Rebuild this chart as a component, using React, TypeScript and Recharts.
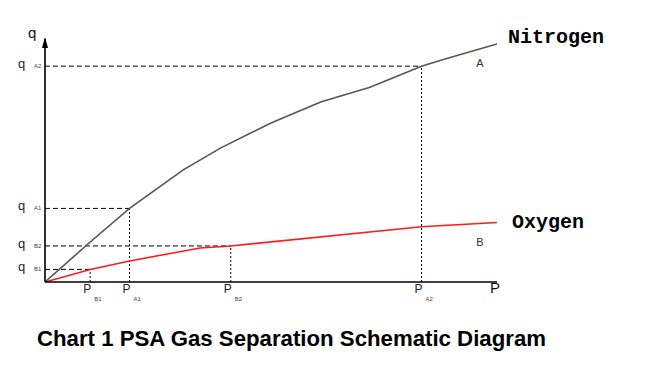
import React from 'react';
import { LineChart, Line, XAxis, YAxis, ReferenceLine, ReferenceDot } from 'recharts';

// Nitrogen isotherm (curve A): pressure P vs adsorbed amount q
const nitrogenP = [0, 1.0, 1.87, 3.05, 3.89, 5.0, 6.1, 7.19, 8.33, 8.85, 10.0];
const nitrogenQ = [0, 1.62, 2.98, 4.53, 5.43, 6.44, 7.29, 7.89, 8.74, 9.03, 9.64];
// Oxygen isotherm (curve B)
const oxygenP = [0, 1.0, 1.87, 3.43, 4.11, 8.33, 10.0];
const oxygenQ = [0, 0.51, 0.85, 1.38, 1.46, 2.24, 2.41];

// Marked operating points
const markerNames = ['B1', 'A1', 'B2', 'A2'];
const markerP = [1.0, 1.87, 4.11, 8.33];
const markerQ = [0.51, 2.98, 1.46, 8.74];

// Curve letters
const curveLetters = ['A', 'B'];
const curveLetterP = [9.62, 9.62];
const curveLetterQ = [8.85, 1.6];

const seriesNames = ['Nitrogen', 'Oxygen'];
const title = 'Chart 1 PSA Gas Separation Schematic Diagram';

const P_MAX = 10;
const Q_MAX = 9.84;

const nitrogenData = nitrogenP.map((p, i) => ({ p, q: nitrogenQ[i] }));
const oxygenData = oxygenP.map((p, i) => ({ p, q: oxygenQ[i] }));
const markers = markerNames.map((name, i) => ({ name, p: markerP[i], q: markerQ[i] }));
const xTicks = [...markerP].sort((a, b) => a - b);
const yTicks = [...markerQ].sort((a, b) => a - b);

const FONT = '"Liberation Sans", Arial, sans-serif';
const MONO = '"Liberation Mono", "Courier New", monospace';

const XTick = (props: any) => {
  const { x, y, payload } = props;
  const m = markers.find((mm) => mm.p === payload.value);
  return (
    <g>
      <text x={x - 3} y={y + 11} textAnchor="middle" fontSize={12} fontFamily={FONT} fill="#222">P</text>
      <text x={x + 4} y={y + 19} fontSize={6} fontFamily={FONT} fill="#444">{m ? m.name : ''}</text>
    </g>
  );
};

const YTick = (props: any) => {
  const { x, y, payload } = props;
  const m = markers.find((mm) => mm.q === payload.value);
  return (
    <g>
      <text x={x - 27} y={y + 2} fontSize={13} fontFamily={FONT} fill="#222">q</text>
      <text x={x - 11} y={y + 2} fontSize={6} fontFamily={FONT} fill="#444">{m ? m.name : ''}</text>
    </g>
  );
};

export default function App() {
  return (
    <div style={{ position: 'absolute', left: 0, top: 0, width: 662, height: 374, background: '#fff' }}>
      <LineChart
        width={662}
        height={374}
        margin={{ top: 39, right: 165, bottom: 62, left: 0 }}
      >
        <XAxis
          type="number"
          dataKey="p"
          domain={[0, P_MAX]}
          ticks={xTicks}
          interval={0}
          tick={(p: any) => <XTick {...p} />}
          tickLine={false}
          tickSize={0}
          tickMargin={0}
          height={30}
          axisLine={{ stroke: '#000', strokeWidth: 1.6 }}
          allowDataOverflow
        />
        <YAxis
          type="number"
          dataKey="q"
          domain={[0, Q_MAX]}
          ticks={yTicks}
          interval={0}
          tick={(p: any) => <YTick {...p} />}
          tickLine={false}
          tickSize={0}
          tickMargin={0}
          width={45}
          axisLine={{ stroke: '#000', strokeWidth: 1.6 }}
          allowDataOverflow
        />
        {markers.map((m) => (
          <ReferenceLine
            key={'h' + m.name}
            segment={[{ x: 0, y: m.q }, { x: m.p, y: m.q }]}
            stroke="#000"
            strokeWidth={1}
            strokeDasharray="5 3"
            ifOverflow="visible"
          />
        ))}
        {markers.map((m) => (
          <ReferenceLine
            key={'v' + m.name}
            segment={[{ x: m.p, y: 0 }, { x: m.p, y: m.q }]}
            stroke="#000"
            strokeWidth={1}
            strokeDasharray="2 2"
            ifOverflow="visible"
          />
        ))}
        <Line
          data={nitrogenData}
          dataKey="q"
          type="linear"
          stroke="#555"
          strokeWidth={1.6}
          dot={false}
          isAnimationActive={false}
        />
        <Line
          data={oxygenData}
          dataKey="q"
          type="linear"
          stroke="#ff1a1a"
          strokeWidth={1.6}
          dot={false}
          isAnimationActive={false}
        />
        {/* y-axis arrow + label */}
        <ReferenceDot
          x={0}
          y={Q_MAX}
          ifOverflow="visible"
          shape={(p: any) => (
            <g>
              <path d={`M${p.cx},${p.cy - 2} L${p.cx - 3},${p.cy + 9} L${p.cx + 3},${p.cy + 9} Z`} fill="#000" />
              <text x={p.cx - 17} y={p.cy - 1} fontSize={15} fontFamily={FONT} fill="#111">q</text>
            </g>
          )}
        />
        {/* x-axis label */}
        <ReferenceDot
          x={P_MAX}
          y={0}
          ifOverflow="visible"
          shape={(p: any) => (
            <text x={p.cx - 7} y={p.cy + 11} fontSize={15} fontFamily={FONT} fill="#111">P</text>
          )}
        />
        {/* series names at curve ends */}
        <ReferenceDot
          x={nitrogenP[nitrogenP.length - 1]}
          y={nitrogenQ[nitrogenQ.length - 1]}
          ifOverflow="visible"
          shape={(p: any) => (
            <text x={p.cx + 11} y={p.cy - 1} fontSize={20} fontWeight="bold" fontFamily={MONO} fill="#000">{seriesNames[0]}</text>
          )}
        />
        <ReferenceDot
          x={oxygenP[oxygenP.length - 1]}
          y={oxygenQ[oxygenQ.length - 1]}
          ifOverflow="visible"
          shape={(p: any) => (
            <text x={p.cx + 15} y={p.cy + 5.5} fontSize={20} fontWeight="bold" fontFamily={MONO} fill="#000">{seriesNames[1]}</text>
          )}
        />
        {curveLetters.map((c, i) => (
          <ReferenceDot
            key={'l' + c}
            x={curveLetterP[i]}
            y={curveLetterQ[i]}
            ifOverflow="visible"
            shape={(p: any) => (
              <text x={p.cx} y={p.cy + 4} textAnchor="middle" fontSize={11} fontFamily={FONT} fill="#333">{c}</text>
            )}
          />
        ))}
      </LineChart>
      <svg width={662} height={50} style={{ position: 'absolute', left: 0, top: 315 }}>
        <text x={37} y={31} fontSize={22} fontWeight="bold" fontFamily={FONT} fill="#000" textLength={509} lengthAdjust="spacingAndGlyphs">{title}</text>
      </svg>
    </div>
  );
}
